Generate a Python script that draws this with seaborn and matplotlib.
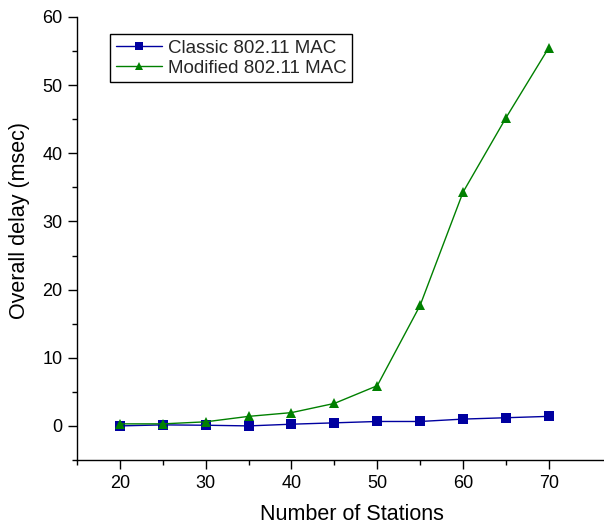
import matplotlib
matplotlib.use("Agg")
import matplotlib.pyplot as plt
import seaborn as sns
import pandas as pd
from matplotlib.ticker import MultipleLocator, FixedLocator

stations = [20, 25, 30, 35, 40, 45, 50, 55, 60, 65, 70]
classic = [0.0, 0.15, 0.1, 0.0, 0.25, 0.45, 0.65, 0.65, 1.0, 1.2, 1.4]
modified = [0.3, 0.3, 0.6, 1.4, 1.95, 3.3, 5.9, 17.7, 34.3, 45.2, 55.5]

sns.set_theme(style="ticks")
plt.rcParams['font.family'] = ['Liberation Sans', 'DejaVu Sans']

df = pd.DataFrame({"Stations": stations * 2,
                   "Delay": classic + modified,
                   "Series": ["Classic 802.11 MAC"] * len(stations) + ["Modified 802.11 MAC"] * len(stations)})

fig = plt.figure(figsize=(6.04, 5.26), dpi=100)
# axes extends past the right edge of the figure (cropped chart)
ax = fig.add_axes([0.1275, 0.1255, 0.909, 0.8422])

sns.lineplot(data=df, x="Stations", y="Delay", hue="Series", style="Series",
             palette={"Classic 802.11 MAC": "#0000A0", "Modified 802.11 MAC": "#008000"},
             markers={"Classic 802.11 MAC": "s", "Modified 802.11 MAC": "^"},
             dashes=False, linewidth=1, markersize=7.5, markeredgewidth=0, ax=ax)

ax.set_xlim(15, 79)
ax.set_ylim(-5, 60)
ax.set_xticks([20, 30, 40, 50, 60, 70])
ax.xaxis.set_minor_locator(FixedLocator([15, 25, 35, 45, 55, 65]))
ax.yaxis.set_major_locator(MultipleLocator(10))
ax.yaxis.set_minor_locator(MultipleLocator(5))
ax.tick_params(which='both', direction='out', color='black', width=1)
ax.tick_params(which='major', length=6.5, pad=4, labelsize=13, labelcolor='black')
ax.tick_params(which='minor', length=3.5)
sns.despine(ax=ax)
for s in ['left', 'bottom']:
    ax.spines[s].set_color('black')
    ax.spines[s].set_linewidth(1)

ax.set_xlabel("Number of Stations", fontsize=15.5, color='black', labelpad=9)
ax.set_ylabel("Overall delay (msec)", fontsize=15.5, color='black')
ax.yaxis.set_label_coords(-0.086, 0.5395)

leg = ax.legend(loc='upper left', bbox_to_anchor=(0.060, 0.962), fontsize=13.5,
                frameon=True, fancybox=False, edgecolor='black', framealpha=1,
                borderpad=0.3, handlelength=2.5, handletextpad=0.3, labelspacing=0.15,
                borderaxespad=0, markerscale=0.7)
leg.get_frame().set_linewidth(1)

fig.savefig("out.png", dpi=100)
